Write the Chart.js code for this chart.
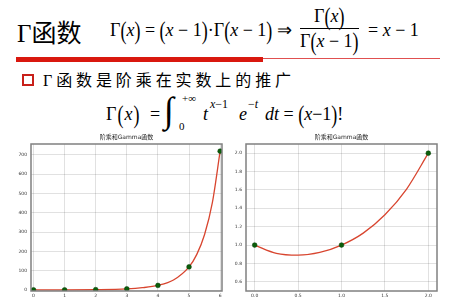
<!DOCTYPE html>
<html>
<head>
<meta charset="utf-8">
<script src="https://cdn.jsdelivr.net/npm/chart.js@4/dist/chart.umd.min.js"></script>
<style>
body { margin: 0; width: 455px; height: 300px; background: #fff; position: relative; overflow: hidden; font-family: 'Liberation Serif', serif; color: #000; }
.abs { position: absolute; white-space: nowrap; }
.p { display: inline-block; transform: scaleY(1.45); }
.box { position: absolute; }
</style>
</head>
<body>
<!-- slide header -->
<div class="abs" style="left:17px;top:16px;font-size:25px;line-height:30px"><span>Γ</span><span style="font-family:'Noto Sans CJK SC'">函数</span></div>
<div class="abs" style="left:110px;top:19px;font-size:18px;line-height:22px">Γ<span class="p">(</span><i>x</i><span class="p">)</span> = <span class="p">(</span><i>x</i> − 1<span class="p">)</span>·Γ<span class="p">(</span><i>x</i> − 1<span class="p">)</span> ⇒</div>
<div class="abs" style="left:300px;top:4px;font-size:18px;line-height:24px;text-align:center">
  <div style="border-bottom:1px solid #000;padding:0 2px">Γ<span class="p">(</span><i>x</i><span class="p">)</span></div>
  <div>Γ<span class="p">(</span><i>x</i> − 1<span class="p">)</span></div>
</div>
<div class="abs" style="left:368px;top:19px;font-size:18px;line-height:22px">= <i>x</i> − 1</div>
<div class="abs" style="left:16px;top:57px;width:247px;height:5px;background:#d9180f"></div>
<div class="abs" style="left:263px;top:58px;width:177px;height:1px;background:#e05050"></div>
<div class="abs" style="left:22px;top:74px;width:8px;height:8px;border:2px solid #c8201a"></div>
<div class="abs" style="left:43px;top:69px;font-size:16px;line-height:20px;letter-spacing:3.9px"><span>Γ</span><span style="font-family:'Noto Sans CJK SC'">函数是阶乘在实数上的推广</span></div>
<!-- integral formula -->
<div class="abs" style="left:106px;top:103px;font-size:18px;line-height:22px;letter-spacing:1px">Γ<span class="p">(</span><i>x</i><span class="p">)</span></div>
<div class="abs" style="left:150px;top:103px;font-size:18px;line-height:22px">=</div>
<div class="abs" style="left:164px;top:89px;font-size:36px;line-height:42px">∫</div>
<div class="abs" style="left:182px;top:92px;font-size:11px;line-height:12px">+∞</div>
<div class="abs" style="left:179px;top:120px;font-size:11px;line-height:12px">0</div>
<div class="abs" style="left:203px;top:103px;font-size:18px;line-height:22px"><i>t</i></div>
<div class="abs" style="left:210px;top:98px;font-size:12px;line-height:12px"><i>x</i>−1</div>
<div class="abs" style="left:239px;top:103px;font-size:18px;line-height:22px"><i>e</i></div>
<div class="abs" style="left:248px;top:98px;font-size:12px;line-height:12px">−<i>t</i></div>
<div class="abs" style="left:265px;top:103px;font-size:18px;line-height:22px"><i>dt</i> = <span class="p">(</span><i>x</i>−1<span class="p">)</span>!</div>

<div class="box" style="left:0px;top:132px;width:230px;height:168px"><canvas id="left"></canvas></div>
<div class="box" style="left:228px;top:132px;width:227px;height:168px"><canvas id="right"></canvas></div>

<script>
// left: factorial points and the gamma curve
var factX = [0, 1, 2, 3, 4, 5, 6];
var factY = [1, 1, 2, 6, 24, 120, 720];
var curveX1 = [0, 1, 2, 3, 3.5, 4, 4.5, 5, 5.25, 5.5, 5.75, 6];
var curveY1 = [1, 1, 2, 6, 12, 24, 52, 120, 185, 288, 453, 720];
var leftXTicks = [0, 1, 2, 3, 4, 5, 6];
var leftYTicks = [0, 100, 200, 300, 400, 500, 600, 700];

// right: zoom on 0..2
var zoomX = [0, 1, 2];
var zoomY = [1, 1, 2];
var curveX2 = [0, 0.25, 0.5, 0.75, 1, 1.25, 1.5, 1.75, 2];
var curveY2 = [1, 0.91, 0.89, 0.92, 1, 1.13, 1.33, 1.61, 2];
var rightXTicks = [0, 0.5, 1, 1.5, 2];
var rightYTicks = [0.6, 0.8, 1.0, 1.2, 1.4, 1.6, 1.8, 2.0];

var chartTitle = '阶乘和Gamma函数';

Chart.defaults.font.family = "'DejaVu Sans', 'Noto Sans CJK SC', sans-serif";
Chart.defaults.color = '#333';

function pts(xs, ys) {
    var out = [];
    for (var i = 0; i < xs.length; i++) out.push({x: xs[i], y: ys[i]});
    return out;
}

var frame = {
    id: 'frame',
    afterDraw: function (c) {
        var a = c.chartArea, ctx = c.ctx;
        ctx.save();
        ctx.strokeStyle = '#808080';
        ctx.lineWidth = 1.5;
        ctx.strokeRect(a.left, a.top, a.right - a.left, a.bottom - a.top);
        ctx.restore();
    }
};

function makeChart(id, cfg) {
    var grid = {color: 'rgba(0,0,0,0.2)', lineWidth: 0.6, borderDash: [1, 2], drawTicks: false};
    return new Chart(document.getElementById(id), {
        type: 'scatter',
        data: {
            datasets: [{
                data: pts(cfg.cx, cfg.cy),
                showLine: true,
                borderColor: '#d8452f',
                borderWidth: 1.3,
                pointRadius: 0,
                cubicInterpolationMode: 'monotone',
                order: 2
            }, {
                data: pts(cfg.px, cfg.py),
                backgroundColor: '#0b5e0b',
                borderColor: '#053d05',
                borderWidth: 0.5,
                pointRadius: 2.4,
                order: 1
            }]
        },
        options: {
            responsive: false,
            animation: false,
            layout: {padding: {left: 0, right: cfg.padRight, top: 0, bottom: 0}},
            plugins: {
                legend: {display: false},
                tooltip: {enabled: false},
                title: {
                    display: true, text: chartTitle, fullSize: false,
                    font: {size: 6, weight: 'normal'}, color: '#222',
                    padding: {top: 2, bottom: 2.8}
                }
            },
            scales: {
                x: {
                    type: 'linear', min: cfg.xMin, max: cfg.xMax,
                    grid: grid, border: {display: false},
                    afterBuildTicks: function (s) { s.ticks = cfg.xt.map(function (v) { return {value: v}; }); },
                    afterFit: function (s) { s.height = 9; },
                    ticks: {font: {size: 4.5}, padding: 2, maxRotation: 0, callback: cfg.xFmt}
                },
                y: {
                    type: 'linear', min: cfg.yMin, max: cfg.yMax,
                    grid: grid, border: {display: false},
                    afterBuildTicks: function (s) { s.ticks = cfg.yt.map(function (v) { return {value: v}; }); },
                    afterFit: function (s) { s.width = cfg.yWidth; },
                    ticks: {font: {size: 4.5}, padding: 4, callback: cfg.yFmt}
                }
            }
        },
        plugins: [frame]
    });
}

document.getElementById('left').width = 230;
document.getElementById('left').height = 168;
document.getElementById('right').width = 227;
document.getElementById('right').height = 168;

makeChart('left', {
    cx: curveX1, cy: curveY1, px: factX, py: factY,
    xMin: -0.08, xMax: 6.06, yMin: -5, yMax: 757,
    xt: leftXTicks, yt: leftYTicks, yWidth: 31, padRight: 8,
    xFmt: function (v) { return String(v); },
    yFmt: function (v) { return String(v); }
});

makeChart('right', {
    cx: curveX2, cy: curveY2, px: zoomX, py: zoomY,
    xMin: -0.1, xMax: 2.1, yMin: 0.5, yMax: 2.1,
    xt: rightXTicks, yt: rightYTicks, yWidth: 18, padRight: 18,
    xFmt: function (v) { return v.toFixed(1); },
    yFmt: function (v) { return v.toFixed(1); }
});
</script>
</body>
</html>
